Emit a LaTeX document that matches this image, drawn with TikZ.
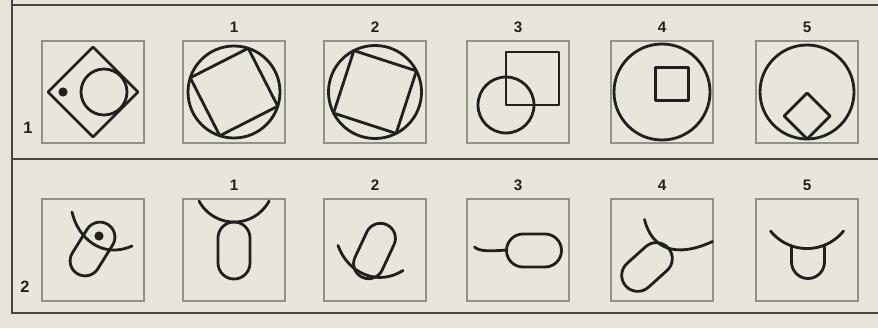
\documentclass[tikz,border=0pt]{standalone}
\usepackage{fontspec}
\setmainfont{Liberation Sans}
\usetikzlibrary{positioning}
\definecolor{paper}{RGB}{232,230,218}
\definecolor{ink}{RGB}{34,32,30}
\definecolor{rule}{RGB}{72,70,66}
\definecolor{cellgray}{RGB}{146,144,138}
% rounded capsule around the origin: half straight length, radius
\newcommand{\capsule}[2]{(-#1,-#2) -- (#1,-#2) arc[start angle=-90,end angle=90,radius=#2] -- (-#1,#2) arc[start angle=90,end angle=270,radius=#2] -- cycle}

\begin{document}
\begin{tikzpicture}[x=0.03cm,y=0.03cm,
  cell/.style={draw=cellgray,line width=1.1pt,minimum size=3.06cm,inner sep=0pt},
  num/.style={font=\fontsize{13}{13}\selectfont\bfseries,text=ink,inner sep=0pt},
  rownum/.style={num,font=\fontsize{14}{14}\selectfont\bfseries},
  fig/.style={draw=ink,line width=2.4pt,line join=round,line cap=round},
  frame/.style={draw=rule,line width=1.9pt}
]
\fill[paper] (0,0) rectangle (878,328);
\useasboundingbox (0,0) rectangle (878,328);

% frame
\draw[frame] (12,328) -- (12,15) -- (878,15);
\draw[frame] (12,323) -- (878,323);
\draw[frame] (12,169) -- (878,169);

% cells and numbers
\foreach \i/\x in {0/93,1/234,2/375,3/518,4/662,5/807}{
  \node[cell] (a\i) at (\x,236) {};
  \node[cell] (b\i) at (\x,78) {};
}
\foreach \i in {1,...,5}{
  \node[num,above=0.22cm of a\i] (na\i) {\i};
  \node[num,above=0.22cm of b\i] (nb\i) {\i};
}
\node[rownum] (r1) at (28,200) {1};
\node[rownum] (r2) at (25,41) {2};

% row 1
\begin{scope}[shift={(a0)}]
  \draw[fig] (0,45) -- (45,0) -- (0,-45) -- (-45,0) -- cycle;
  \draw[fig] (11,0) circle[radius=23];
  \fill[ink] (-30,0) circle[radius=4.6];
\end{scope}
\begin{scope}[shift={(a1)}]
  \draw[fig] (0,0) circle[radius=46];
  \draw[fig] (72:46) -- (162:46) -- (252:46) -- (342:46) -- cycle;
\end{scope}
\begin{scope}[shift={(a2)}]
  \draw[fig] (0,0) circle[radius=46.5];
  \draw[fig] (27:46.5) -- (117:46.5) -- (207:46.5) -- (297:46.5) -- cycle;
\end{scope}
\begin{scope}[shift={(a3)}]
  \draw[fig] (-12,-13) rectangle (41,40);
  \draw[fig] (-12,-13) circle[radius=28];
\end{scope}
\begin{scope}[shift={(a4)}]
  \draw[fig] (0,0) circle[radius=48];
  \draw[fig] (-6.5,-8.5) rectangle (26.5,24.5);
\end{scope}
\begin{scope}[shift={(a5)}]
  \draw[fig] (0,0) circle[radius=47];
  \draw[fig] (0,-1) -- (23,-24) -- (0,-47) -- (-23,-24) -- cycle;
\end{scope}

% row 2
\begin{scope}[shift={(b0)}]
  \draw[fig,shift={(-0.5,1)},rotate=58] \capsule{14}{15};
  \fill[ink] (6,14) circle[radius=4.6];
  \draw[fig] (-21,38) .. controls (-15,11) and (10,-9) .. (39,4);
\end{scope}
\begin{scope}[shift={(b1)}]
  \draw[fig,shift={(0,-0.5)},rotate=90] \capsule{12.5}{16};
  \draw[fig] (-35,49) arc[start angle=208,end angle=332,radius=39.7];
\end{scope}
\begin{scope}[shift={(b2)}]
  \draw[fig,shift={(-0.5,-1)},rotate=65] \capsule{14}{15};
  \draw[fig] (-37,4.5) .. controls (-27,-23.5) and (3,-36.5) .. (28,-20.5);
\end{scope}
\begin{scope}[shift={(b3)}]
  \draw[fig,shift={(16,-0.5)}] \capsule{11}{16.5};
  \draw[fig] (-43.5,3) .. controls (-38.5,-2) and (-25.5,-1) .. (-11.5,0);
\end{scope}
\begin{scope}[shift={(b4)}]
  \draw[fig,shift={(-15,-17)},rotate=42] \capsule{12.5}{16};
  \draw[fig] (-17.5,30.5) .. controls (-10,0) and (15,-8) .. (50.5,8.5);
\end{scope}
\begin{scope}[shift={(b5)}]
  \draw[fig] (-36.5,19) arc[start angle=218.7,end angle=321.3,radius=46.8];
  \draw[fig] (-15.5,4.2) -- (-15.5,-12) arc[start angle=180,end angle=360,radius=16.5] -- (17.5,4.9);
\end{scope}
\end{tikzpicture}
\end{document}
